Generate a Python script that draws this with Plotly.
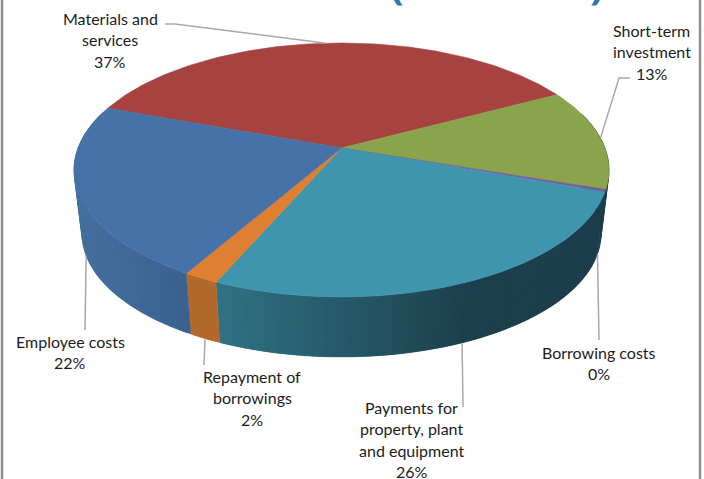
import math
import plotly.graph_objects as go

# Cash outflow shares, clockwise from the red slice
categories = ["Materials and services", "Short-term investment", "Borrowing costs",
              "Payments for property, plant and equipment", "Repayment of borrowings", "Employee costs"]
shares = [36.7, 12.9, 0.3, 26.1, 1.8, 22.2]
top_colors = ["#a64341", "#89a44c", "#7b5a9d", "#4095ae", "#df7f32", "#4672a8"]
# Wall colour at the left and right ends of each slice's shading run
wall_colors = [("#8a3735", "#8a3735"), ("#1d3f4c", "#1d3f4c"), ("#1d3f4c", "#1d3f4c"),
               ("#2f7385", "#1d3f4c"), ("#b3692c", "#b3692c"), ("#44709f", "#3a618f")]
shade_span = [(0, 704), (0, 704), (0, 704), (213, 470), (188, 213), (74, 188)]

# Label lines as drawn, and their layout
label_lines = [["Materials and", "services"], ["Short-term", "investment"], ["Borrowing costs"],
               ["Payments for", "property, plant", "and equipment"], ["Repayment of", "borrowings"], ["Employee costs"]]
label_pos = [(110, 18.5), (651.5, 30.5), (599, 352.5), (411.5, 407.5), (252, 376.5), (70, 341.5)]
# Where each leader line leaves the pie and the path towards its label
leader_rim = ["top", "top", "bottom", "bottom", "bottom", "bottom"]
leader_path = [[(175, 24), (165, 24)], [(619, 78), (630, 78)], [(599, 340)],
               [(463, 407)], [(204, 365)], [(85, 330)]]

START_ANGLE = 200.0
LINE_GAP = 21.3

# Perspective of the disc: centre, axis scale and foreshortening
CX, CY, AX, BY, PERSP = 341.5, 148.0, 263.5, 123.2, 0.173
BOTTOM_CY, BOTTOM_SCALE = 212.5, 0.97


def project(angle, rim="top"):
    """Screen position of a rim point at the given clockwise angle in degrees."""
    u, v = math.cos(math.radians(angle)), math.sin(math.radians(angle))
    w = 1 - PERSP * v
    scale, cy = (1.0, CY) if rim == "top" else (BOTTOM_SCALE, BOTTOM_CY)
    return CX + scale * AX * u / w, cy + scale * BY * v / w


def mix(c1, c2, t):
    t = max(0.0, min(1.0, t))
    a = [int(c1[i:i + 2], 16) for i in (1, 3, 5)]
    b = [int(c2[i:i + 2], 16) for i in (1, 3, 5)]
    return "rgb({},{},{})".format(*[round(p + (q - p) * t) for p, q in zip(a, b)])


def polygon(points, color, outline=0.6):
    xs = [p[0] for p in points] + [points[0][0]]
    ys = [p[1] for p in points] + [points[0][1]]
    return go.Scatter(x=xs, y=ys, mode="lines", fill="toself", fillcolor=color,
                      line=dict(color=color, width=outline), hoverinfo="skip", showlegend=False)


# Cumulative slice boundaries
edges = [START_ANGLE]
for share in shares:
    edges.append(edges[-1] + share * 3.6)

fig = go.Figure()

# Side wall, drawn as overlapping strips so the shading varies along the rim without seams
STEP = 1.0
for i, (a0, a1) in enumerate(zip(edges[:-1], edges[1:])):
    n = max(1, math.ceil((a1 - a0) / STEP))
    width = (a1 - a0) / n
    for k in range(n):
        s0 = a0 + width * k
        # each strip reaches under the next one; the following strip paints over the overlap
        s1 = s0 + width * 2 if k < n - 1 else s0 + width
        mid = s0 + width / 2
        if math.sin(math.radians(mid)) < -0.3:
            continue
        x_mid = project(mid)[0]
        left, right = shade_span[i]
        color = mix(wall_colors[i][0], wall_colors[i][1], (x_mid - left) / (right - left))
        arc = [s0 + (s1 - s0) * t / 3 for t in range(4)]
        pts = [project(a) for a in arc] + [project(a, "bottom") for a in reversed(arc)]
        fig.add_trace(polygon(pts, color, outline=0.2))

# Top face
for i, (a0, a1) in enumerate(zip(edges[:-1], edges[1:])):
    n = max(2, math.ceil((a1 - a0) / 1.0))
    arc = [project(a0 + (a1 - a0) * k / n) for k in range(n + 1)]
    fig.add_trace(polygon([(CX, CY)] + arc, top_colors[i]))

# Leader lines
for i, path in enumerate(leader_path):
    mid = (edges[i] + edges[i + 1]) / 2
    pts = [project(mid, leader_rim[i])] + path
    fig.add_trace(go.Scatter(x=[p[0] for p in pts], y=[p[1] for p in pts], mode="lines",
                             line=dict(color="#a9a9a9", width=1.5), hoverinfo="skip", showlegend=False))

# Frame lines down both sides
for x in (2, 700):
    fig.add_trace(go.Scatter(x=[x, x], y=[0, 479], mode="lines",
                             line=dict(color="#8f8f8f", width=2.5), hoverinfo="skip", showlegend=False))

annotations = []
for i, lines in enumerate(label_lines):
    x, y = label_pos[i]
    for j, text in enumerate(lines + [f"{round(shares[i])}%"]):
        annotations.append(dict(x=x, y=y + j * LINE_GAP, text=text, xref="x", yref="y", showarrow=False,
                                xanchor="center", yanchor="middle",
                                font=dict(family="Lato", size=16, color="#1c1c1c")))

# Heading brackets running off the top edge
for x, text in ((397, "("), (597, ")")):
    annotations.append(dict(x=x, y=0, text=text, xref="x", yref="y", showarrow=False, xanchor="center",
                            yanchor="bottom", yshift=-13,
                            font=dict(family="Open Sans", size=40, color="#2e75b6", weight="bold")))

fig.update_layout(
    width=704, height=479, margin=dict(l=0, r=0, t=0, b=0),
    paper_bgcolor="white", plot_bgcolor="white", showlegend=False,
    xaxis=dict(range=[0, 704], visible=False, fixedrange=True),
    yaxis=dict(range=[479, 0], visible=False, fixedrange=True),
    annotations=annotations,
)

fig.write_html("out.html", config={"displayModeBar": False})
